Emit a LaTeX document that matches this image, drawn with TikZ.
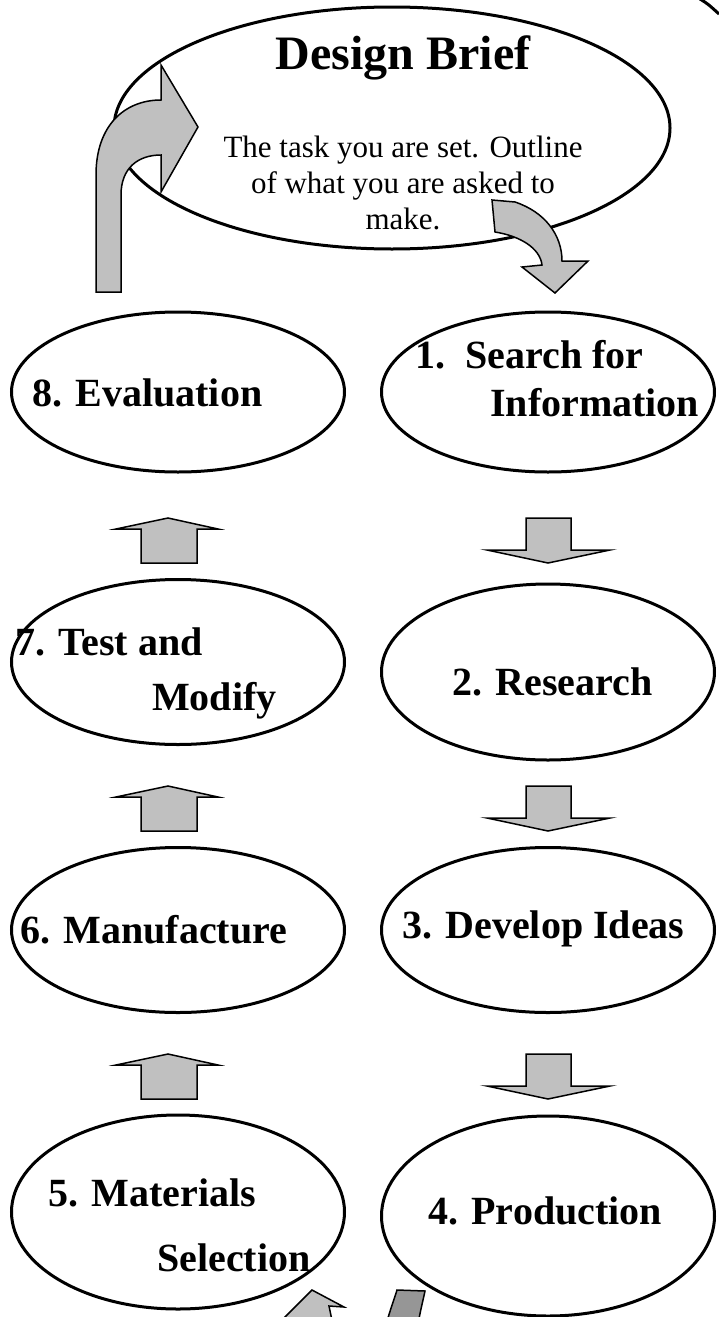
\documentclass[tikz,border=0pt]{standalone}
\usepackage{fontspec}
\setmainfont{Liberation Serif}
\usetikzlibrary{shapes.geometric, positioning, calc}
\definecolor{arrowgrey}{HTML}{C0C0C0}
\definecolor{darkgrey}{HTML}{969696}

\begin{document}
\begin{tikzpicture}[x=1pt, y=-1pt]
		\tikzstyle{stage} = [ellipse, draw, line width=3pt, minimum width=333pt, inner sep=0pt]
		\tikzstyle{lbl} = [anchor=base west, inner sep=0pt, font=\bfseries\fontsize{40}{44}\selectfont]
		\tikzstyle{blk} = [draw, line width=1.5pt, fill=arrowgrey, line join=miter]
		\useasboundingbox (0,0) rectangle (718,1317);

		\node[ellipse, draw, line width=3pt, minimum width=556pt, minimum height=242pt] (brief) at (392,128) {};
		\node[font=\bfseries\fontsize{48}{52}\selectfont] (title) at (403,58) {Design Brief};
		\node[align=center, font=\fontsize{31}{36}\selectfont] (task) at (403,183) {The task you are set. Outline\\ of what you are asked to\\ make.};
		\draw[line width=3pt] (700,-1) .. controls (708,4) .. (719,14);

		% curved arrows round the brief
		\draw[blk] (96,292) -- (96,175) .. controls (96,125) and (125,100) .. (161,100) -- (161,65) -- (198,127) -- (161,192) -- (161,155) .. controls (138,155) and (121,168) .. (121,195) -- (121,292) -- cycle;
		\draw[blk] (492,200) -- (515,202) .. controls (545,212) and (562,235) .. (562,261) -- (588,261) -- (555,293) -- (522,267) -- (542,265) .. controls (540,248) and (520,236) .. (495,232) -- cycle;

		% stages
		\node[stage, minimum height=160pt] (e8) at (178,392) {}; \node[stage, minimum height=160pt] (e1) at (548,392) {};
		\node[stage, minimum height=165pt] (e7) at (178,662) {}; \node[stage, minimum height=176pt] (e2) at (548,672) {};
		\node[stage, minimum height=165pt] (e6) at (178,930) {}; \node[stage, minimum height=165pt] (e3) at (548,930) {};
		\node[stage, minimum height=194pt] (e5) at (178,1212) {}; \node[stage, minimum height=200pt] (e4) at (548,1216) {};

		\node[lbl] (t8) at (32,406) {8. Evaluation};
		\node[lbl] (t1a) at (415,368) {1.\ \ Search for}; \node[lbl] (t1b) at (490,416) {Information};
		\node[lbl] (t7a) at (15,655) {7. Test and}; \node[lbl] (t7b) at (152,710) {Modify};
		\node[lbl] (t2) at (452,695) {2. Research};
		\node[lbl] (t6) at (20,943) {6. Manufacture};
		\node[lbl] (t3) at (402,938) {3. Develop Ideas};
		\node[lbl] (t5a) at (48,1206) {5. Materials}; \node[lbl] (t5b) at (157,1271) {Selection};
		\node[lbl] (t4) at (428,1224) {4. Production};

		% block arrows between stages
		\foreach \dy in {0,268,536} {
			\draw[blk] (141,563+\dy) -- (141,529+\dy) -- (116,529+\dy) -- (168,518+\dy) -- (218,529+\dy) -- (197,529+\dy) -- (197,563+\dy) -- cycle;
			\draw[blk] (526,518+\dy) -- (571,518+\dy) -- (571,550+\dy) -- (610,550+\dy) -- (548,563+\dy) -- (487,550+\dy) -- (526,550+\dy) -- cycle;
		}

		% arrows leaving the bottom
		\draw[blk] (312,1290) -- (344,1307) -- (329,1306) -- (334,1330) -- (300,1330) -- (296,1318) -- (282,1320) -- cycle;
		\draw[blk, fill=darkgrey] (397,1290) -- (425,1291) .. controls (422,1305) and (420,1312) .. (418,1325) -- (386,1325) .. controls (390,1310) and (394,1300) .. (397,1290) -- cycle;
\end{tikzpicture}
\end{document}
